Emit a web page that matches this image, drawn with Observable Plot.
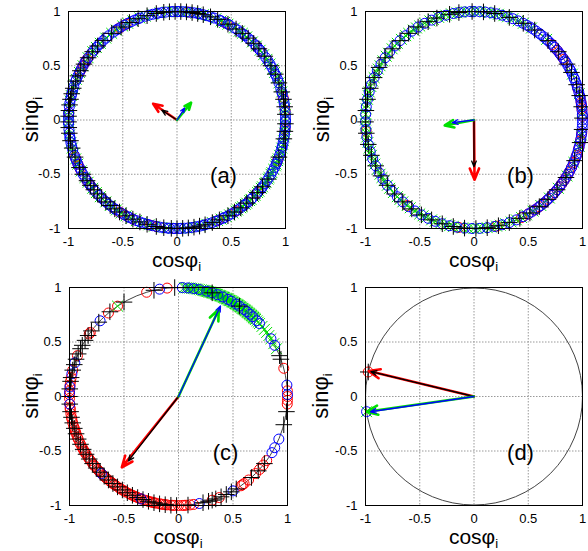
<!DOCTYPE html>
<html><head><meta charset="utf-8">
<script src="https://cdn.jsdelivr.net/npm/d3@7"></script>
<script src="https://cdn.jsdelivr.net/npm/@observablehq/plot@0.6"></script>
<style>
body{margin:0;background:#fff}
#wrap{position:relative;width:588px;height:551px;font-family:"Liberation Sans",Arial,sans-serif;overflow:hidden}
#wrap svg{position:absolute;overflow:visible}
</style></head><body><div id="wrap"></div>
<script>
// ---- axis ticks ----
const ticks = [-1, -0.5, 0, 0.5, 1];
const tickLabels = ["-1", "-0.5", "0", "0.5", "1"];
const panelNames = ["(a)", "(b)", "(c)", "(d)"];
const xLabel = "cosφ", yLabel = "sinφ", labelSub = "i";

// ---- phase angles φi (degrees) ----
// panel (a)
const aRed = [5,12,40,63,84,118,122,146,148,150,153,176,200,204,207,214,217,238,241,246,256,259,268,292,303,318,338,355];
const aGreen = [1,3,6,8,12,15,18,20,23,26,28,31,34,37,40,43,46,50,53,55,58,62,64,66,69,73,76,80,82,85,88,92,95,99,103,107,110,114,117,120,124,127,131,135,138,141,145,150,154,158,161,163,167,170,174,178,181,185,188,192,195,198,201,204,208,212,215,219,222,225,229,232,236,239,242,245,248,251,255,258,262,265,268,272,275,279,282,286,289,292,294,297,299,301,303,304,306,307,309,310,312,313,315,316,318,319,321,322,324,325,327,328,330,331,333,335,336,338,339,341,343,345,347,349,351,353,355,357];
const aBlue = [0,2,4,7,9,11,14,15,17,20,22,24,25,27,29,31,33,35,38,40,41,43,44,47,49,51,52,54,56,58,61,62,64,66,67,70,72,74,76,78,79,81,83,85,87,89,90,92,93,96,98,100,101,103,105,107,110,111,113,115,117,119,121,123,124,126,129,131,133,135,136,138,140,142,145,147,148,150,152,154,156,158,159,162,164,166,167,169,171,173,176,177,179,181,182,185,187,189,190,192,194,196,199,201,202,204,206,208,210,212,214,216,217,219,221,224,226,228,229,231,233,235,236,239,241,243,244,246,248,250,252,254,255,257,259,261,263,265,266,268,269,271,272,274,276,278,280,282,284,285,287,289,291,293,295,296,298,300,302,304,306,308,309,311,313,314,317,319,321,322,324,326,328,330,332,334,336,337,339,341,343,345,346,348,350,352,354,356,357,359];
const aBlack = [358,3,7,11,15,20,25,30,36,41,45,49,53,57,62,68,72,76,79,82,85,88,91,94,97,101,106,111,116,121,127,133,137,141,145,149,153,156,159,163,166,169,172,175,178,181,184,187,191,195,200,206,210,214,217,220,223,226,229,232,235,238,242,246,250,254,259,263,267,270,273,276,279,282,285,289,293,298,302,306,310,314,318,322,327,340,350,354];
// panel (b)
const bRed = [2,6,9,12,17,34,37,40,44,186,232,262,282,296,300,304,307,310,313,316,318,320,322,324,326,328,331,334,337,341,345,349,353];
const bGreen = [4,14,25,48,58,63,66,69,72,74,77,79,82,84,87,89,92,94,97,99,102,105,107,109,112,114,117,120,122,124,127,129,132,135,137,139,142,144,147,150,152,154,157,159,162,165,167,169,172,174,177,180,182,184,187,189,192,195,197,199,202,204,207,210,212,214,217,219,222,225,227,229,232,234,237,240,242,244,247,249,252,255,257,259,262,264,267,270,272,274,277,279,282,284,287,290,293,296,299,303,308,314,321,329,337,346,352];
const bBlue = [0,2,3,5,7,8,10,12,13,15,17,18,20,22,23,25,27,28,30,32,33,35,37,38,40,42,43,45,47,48,50,52,53,55,57,59,61,63,66,69,72,75,78,81,84,87,90,92,95,98,101,105,109,113,117,121,125,129,133,137,141,145,149,153,157,161,165,169,173,177,181,185,189,193,197,201,205,209,213,217,221,225,229,233,237,241,245,249,253,257,261,265,269,273,277,281,285,289,293,297,300,302,304,306,308,310,312,314,316,318,320,322,324,326,328,330,332,334,336,338,340,342,344,346,348,350,352,354,356,358];
const bBlack = [355,1,7,13,19,26,31,39,47,56,63,71,79,85,91,98,103,110,115,121,127,133,139,145,151,157,163,169,175,181,187,193,199,205,211,217,223,229,235,241,247,253,259,265,271,277,283,289,295,301,307,313,320,328,338,348];
// panel (c)
const cRed = [96,107,124,130,144,145,158,166,170,172,174,177,179,181,184,186,187,189,191,192,194,196,197,198,199,200,202,203,205,206,208,209,210,211,212,214,215,216,218,219,220,222,223,224,226,227,228,229,231,232,233,234,235,237,238,239,240,241,243,244,245,246,247,248,249,250,252,253,254,255,256,257,258,260,261,262,263,264,266,267,268,270,272,273,274,276,278,288,292,305,306,307,310,315,318,321,324,15,3,0,358,356];
const cGreen = [26,29,32,34,36,38,40,42,43,44,45,45.5,46,46.5,47,47.5,48,48.5,49,49.5,50,50.5,51,51.5,52,52.5,53,53.5,54,54.5,55,55.5,56,56.5,57,57.5,58,58.5,59,59.5,60,60.5,61,61.5,62,62.5,63,63.5,64,64.5,65,65.5,66,66.5,67,67.5,68,68.5,69,69.5,70,70.5,71,71.5,72,72.5,73,73.5,74,74.5,75,75.5,76,76.5,77,78,79,80,81,82,83,84,85,86,87,124];
const cBlue = [100,136,162,168,175,178,184,225,250,281,300,329,332,337,6,1,28,32,42,44,47,49,51,53,56,58,61,63,66,69,72,75,79,82,85,88];
const cBlack = [92,103,120,129,137,143,146,149,152,154,157,160,163,166,170,172,176,180,184,188,191,194,197,200,203,206,209,212,215,218,221,224,227,230,233,236,239,242,245,248,251,254,257,260,263,266,269,275,283,286,288,290,293,296,299,302,312,317,322,345,352,20,22,56,72];
// panel (d)
const dRed = [167];
const dGreen = [188];
const dBlue = [188];
const dBlack = [167];

// ---- mean-field arrow tips (x = cos, y = sin) ----
const arrowTipsA = { red: [-0.22, 0.15], black: [-0.14, 0.09], green: [0.13, 0.16], blue: [0.07, 0.11] };
const arrowTipsB = { red: [0.005, -0.55], black: [0.0, -0.43], green: [-0.27, -0.05], blue: [-0.2, -0.025] };
const arrowTipsC = { red: [-0.52, -0.65], black: [-0.46, -0.59], green: [0.37, 0.8], blue: [0.385, 0.83] };
const arrowTipsD = { red: [-0.97, 0.233], black: [-0.95, 0.228], green: [-0.99, -0.14], blue: [-0.955, -0.14] };

const COLORS = { red: "#ff0000", green: "#00e000", blue: "#0000ff", black: "#000000" };
const SYMBOLS = { red: "circle", green: "times", blue: "circle", black: "plus" };
const SIZES = { red: 5, green: 5, blue: 5, black: 5.4 };

const toXY = angs => angs.map(a => ({ x: Math.cos(a * Math.PI / 180), y: Math.sin(a * Math.PI / 180) }));

const panels = [
  { name: panelNames[0], series: { red: aRed, green: aGreen, blue: aBlue, black: aBlack }, tips: arrowTipsA,
    left: 0, top: 0, width: 294, height: 272, ml: 68, mr: 9, mt: 11, mb: 44, xl: [176.5, 267], yl: [38, 119.5] },
  { name: panelNames[1], series: { red: bRed, green: bGreen, blue: bBlue, black: bBlack }, tips: arrowTipsB,
    left: 294, top: 0, width: 294, height: 272, ml: 71, mr: 6, mt: 11, mb: 44, xl: [179.5, 267], yl: [35, 119.5] },
  { name: panelNames[2], series: { red: cRed, green: cGreen, blue: cBlue, black: cBlack }, tips: arrowTipsC,
    left: 0, top: 272, width: 294, height: 279, ml: 69, mr: 7, mt: 15, mb: 46, xl: [178, 272], yl: [38, 124] },
  { name: panelNames[3], series: { red: dRed, green: dGreen, blue: dBlue, black: dBlack }, tips: arrowTipsD,
    left: 294, top: 272, width: 294, height: 279, ml: 71, mr: 6, mt: 15, mb: 46, xl: [179.5, 272], yl: [34, 124] }
];

const wrap = document.getElementById("wrap");

for (const p of panels) {
  const iw = p.width - p.ml - p.mr, ih = p.height - p.mt - p.mb;
  const R = Math.min(iw, ih) / 2;
  const marks = [
    Plot.gridX(ticks, { stroke: "#999", strokeOpacity: 1, strokeDasharray: "1.5,1.5" }),
    Plot.gridY(ticks, { stroke: "#999", strokeOpacity: 1, strokeDasharray: "1.5,1.5" }),
    Plot.axisX(ticks, { tickSize: 0, tickPadding: 8, tickFormat: d => tickLabels[ticks.indexOf(d)], label: null, fontSize: 13 }),
    Plot.axisY(ticks, { tickSize: 0, tickPadding: 8, tickFormat: d => tickLabels[ticks.indexOf(d)], label: null, fontSize: 13 }),
    // unit circle
    Plot.dot([0], { x: () => 0, y: () => 0, r: R, stroke: "#444", strokeWidth: 1, fill: "none" })
  ];
  for (const k of ["red", "green", "blue", "black"]) {
    marks.push(Plot.dot(toXY(p.series[k]), {
      x: "x", y: "y", symbol: SYMBOLS[k], r: SIZES[k],
      stroke: COLORS[k], fill: "none", strokeWidth: 1
    }));
  }
  const arrow = (tip, color, w) => Plot.arrow([tip], {
    x1: () => 0, y1: () => 0, x2: d => d[0], y2: d => d[1],
    stroke: color, strokeWidth: w, headLength: 7, headAngle: 45
  });
  marks.push(arrow(p.tips.red, COLORS.red, 2.6));
  marks.push(arrow(p.tips.black, COLORS.black, 1.3));
  marks.push(arrow(p.tips.green, COLORS.green, 2.6));
  marks.push(arrow(p.tips.blue, COLORS.blue, 1.3));
  marks.push(Plot.frame({ stroke: "#000", strokeWidth: 1 }));
  marks.push(Plot.text([p.name], { text: d => d, frameAnchor: "bottom-right", dx: -62, dy: -53,
    textAnchor: "middle", lineAnchor: "middle", fontSize: 22, fill: "#000" }));

  const svg = Plot.plot({
    width: p.width, height: p.height,
    marginLeft: p.ml, marginRight: p.mr, marginTop: p.mt, marginBottom: p.mb,
    x: { domain: [-1, 1] }, y: { domain: [-1, 1] },
    style: { fontFamily: '"Liberation Sans", Arial, sans-serif', fontSize: "13px", color: "#000", background: "transparent", overflow: "visible" },
    marks
  });
  svg.style.left = p.left + "px";
  svg.style.top = p.top + "px";
  const s = d3.select(svg);
  const xt = s.append("text").attr("x", p.xl[0]).attr("y", p.xl[1]).attr("text-anchor", "middle")
    .attr("fill", "#000").style("font-size", "21px");
  xt.append("tspan").text(xLabel);
  xt.append("tspan").attr("dy", 4).style("font-size", "13px").text(labelSub);
  const yt = s.append("text").attr("transform", `translate(${p.yl[0]},${p.yl[1]}) rotate(-90)`)
    .attr("text-anchor", "middle").attr("fill", "#000").style("font-size", "22px");
  yt.append("tspan").text(yLabel);
  yt.append("tspan").attr("dy", 4).style("font-size", "13px").text(labelSub);
  wrap.appendChild(svg);
}
</script>
</body></html>
